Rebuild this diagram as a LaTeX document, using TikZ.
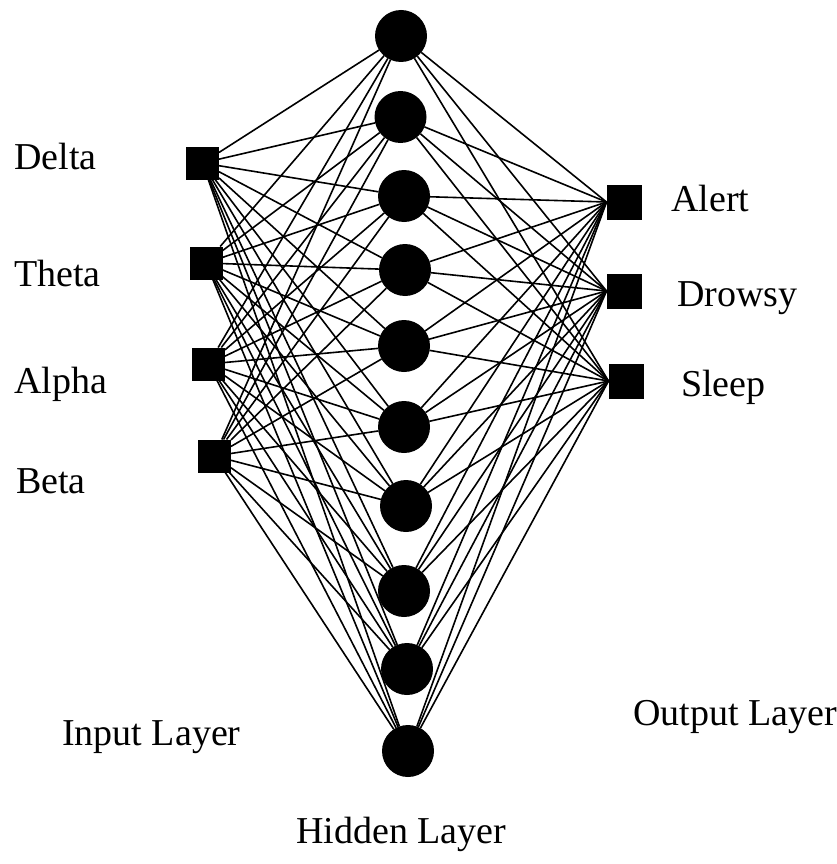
\documentclass[tikz,border=0pt]{standalone}
\usepackage{fontspec}
\setmainfont{Liberation Serif}
\begin{document}
\begin{tikzpicture}[x=1pt, y=-1pt,
  unit/.style={draw=none, fill=black, inner sep=0pt, outer sep=0pt},
  insq/.style={unit, rectangle, minimum size=33pt},
  outsq/.style={unit, rectangle, minimum size=35pt},
  hid/.style={unit, circle, minimum size=52pt},
  wire/.style={line width=1.6pt},
  lbl/.style={anchor=base west, inner sep=0pt, font=\fontsize{38}{40}\selectfont}]
  \useasboundingbox (0,0) rectangle (836,864);
  % input layer
  \foreach \n/\x/\y in {1/202.5/163, 2/206/263, 3/208.5/364, 4/214.5/456}
    \node[insq] (in\n) at (\x,\y) {};
  % hidden layer
  \foreach \n/\x/\y in {1/401/36, 2/400.5/117, 3/404/196, 4/405/270, 5/404/346,
                        6/404/427, 7/406/506, 8/404/591, 9/407/669, 10/408/751}
    \node[hid] (h\n) at (\x,\y) {};
  % output layer
  \foreach \n/\x/\y in {1/624/202, 2/624/291, 3/626/381}
    \node[outsq] (out\n) at (\x,\y) {};
  % fully connected weights
  \foreach \i in {1,...,4}
    \foreach \j in {1,...,10}
      \draw[wire] (in\i) -- (h\j);
  \foreach \j in {1,...,10}
    \foreach \k in {1,2,3}
      \draw[wire] (h\j) -- (out\k.west);
  % band names
  \node[lbl] (delta) at (14,169.5) {Delta};
  \node[lbl] (theta) at (14,286.5) {Theta};
  \node[lbl] (alpha) at (14,393.5) {Alpha};
  \node[lbl] (beta)  at (16,493.5) {Beta};
  % states
  \node[lbl] (alert)  at (671,211) {Alert};
  \node[lbl] (drowsy) at (677,306) {Drowsy};
  \node[lbl] (sleep)  at (681,396.5) {Sleep};
  % layer captions
  \node[lbl] (inlab)  at (62,745) {Input Layer};
  \node[lbl] (outlab) at (633,725) {Output Layer};
  \node[lbl] (hidlab) at (296,843) {Hidden Layer};
\end{tikzpicture}
\end{document}
